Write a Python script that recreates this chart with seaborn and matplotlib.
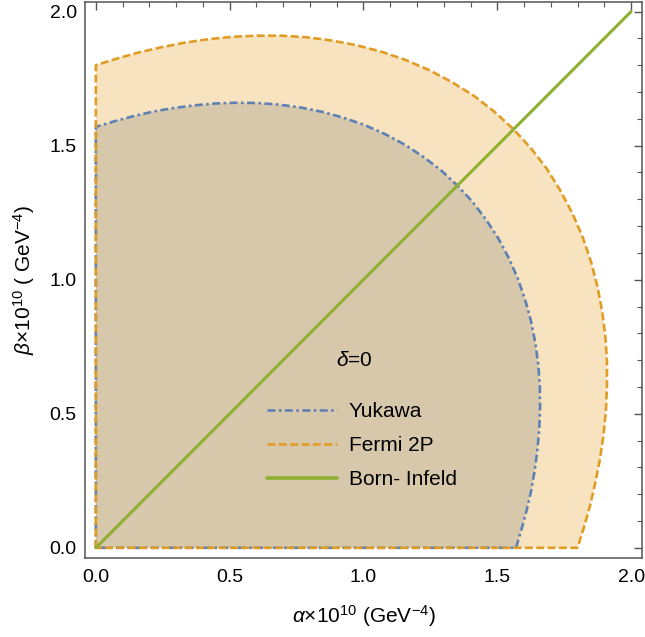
import matplotlib
matplotlib.use("Agg")
import matplotlib.pyplot as plt
import seaborn as sns
from matplotlib.ticker import MultipleLocator, FormatStrFormatter

# boundaries (closed outline: origin -> up the beta axis -> curve -> back along alpha axis)
yukawa_alpha = [0.000, 0.000, 0.070, 0.141, 0.214, 0.289, 0.366, 0.444, 0.523, 0.604, 0.685,
                0.766, 0.846, 0.926, 1.004, 1.081, 1.154, 1.224, 1.290, 1.351,
                1.408, 1.458, 1.504, 1.543, 1.577, 1.604, 1.626, 1.642, 1.653, 1.659,
                1.660, 1.657, 1.650, 1.640, 1.627, 1.610, 1.591, 1.570, 0.000]
yukawa_beta = [0.000, 1.570, 1.591, 1.610, 1.627, 1.640, 1.650, 1.657, 1.660, 1.659, 1.653,
               1.642, 1.626, 1.604, 1.577, 1.543, 1.504, 1.458, 1.408, 1.351,
               1.290, 1.224, 1.154, 1.081, 1.004, 0.926, 0.846, 0.766, 0.685, 0.604,
               0.523, 0.444, 0.366, 0.289, 0.214, 0.141, 0.070, 0.000, 0.000]

fermi_alpha = [0.000, 0.000, 0.080, 0.162, 0.246, 0.332, 0.421, 0.511, 0.602, 0.695, 0.789,
               0.882, 0.976, 1.068, 1.159, 1.247, 1.332, 1.414, 1.490, 1.561,
               1.626, 1.685, 1.736, 1.781, 1.819, 1.850, 1.874, 1.892, 1.904, 1.910,
               1.910, 1.906, 1.897, 1.884, 1.867, 1.848, 1.825, 1.800, 0.000]
fermi_beta = [0.000, 1.800, 1.825, 1.848, 1.867, 1.884, 1.897, 1.906, 1.910, 1.910, 1.904,
              1.892, 1.874, 1.850, 1.819, 1.781, 1.736, 1.685, 1.626, 1.561,
              1.490, 1.414, 1.332, 1.247, 1.159, 1.068, 0.976, 0.882, 0.789, 0.695,
              0.602, 0.511, 0.421, 0.332, 0.246, 0.162, 0.080, 0.000, 0.000]

born_alpha = [0.0, 2.0]
born_beta = [0.0, 2.0]

blue = "#5E81B5"
orange = "#E19C24"
green = "#8FB032"

sns.set_style("white")
plt.rcParams["font.family"] = ["Liberation Sans", "DejaVu Sans"]
plt.rcParams["mathtext.fontset"] = "custom"
plt.rcParams["mathtext.rm"] = "Liberation Sans"
plt.rcParams["mathtext.it"] = "Liberation Sans:italic"
plt.rcParams["text.color"] = "black"
plt.rcParams["axes.labelcolor"] = "black"

fig = plt.figure(figsize=(6.45, 6.37), dpi=100)
ax = fig.add_axes([0.132, 0.124, 0.863, 0.873])

ax.fill(fermi_alpha, fermi_beta, color="#F7E3C0", lw=0, zorder=1)
ax.fill(yukawa_alpha, yukawa_beta, color="#D7C7AB", lw=0, zorder=2)

sns.lineplot(x=yukawa_alpha, y=yukawa_beta, sort=False, estimator=None, ax=ax,
             color=blue, lw=1.9, label="Yukawa", zorder=3)
ax.lines[-1].set_dashes((3.0, 1.3, 1.0, 1.3))
sns.lineplot(x=fermi_alpha, y=fermi_beta, sort=False, estimator=None, ax=ax,
             color=orange, lw=1.9, label="Fermi 2P", zorder=4)
ax.lines[-1].set_dashes((3.0, 1.3))
sns.lineplot(x=born_alpha, y=born_beta, sort=False, estimator=None, ax=ax,
             color=green, lw=2.2, label="Born- Infeld", zorder=5)

ax.set_xlim(-0.04, 2.04)
ax.set_ylim(-0.038, 2.036)
ax.xaxis.set_major_locator(MultipleLocator(0.5))
ax.yaxis.set_major_locator(MultipleLocator(0.5))
ax.xaxis.set_minor_locator(MultipleLocator(0.1))
ax.yaxis.set_minor_locator(MultipleLocator(0.1))
ax.xaxis.set_major_formatter(FormatStrFormatter("%.1f"))
ax.yaxis.set_major_formatter(FormatStrFormatter("%.1f"))
ax.tick_params(which="both", direction="in", top=True, right=True,
               color="#555555", labelsize=14, labelcolor="black")
ax.tick_params(which="major", length=6, width=1)
ax.tick_params(which="minor", length=3.5, width=0.8)
ax.tick_params(axis="x", which="major", pad=8)
ax.tick_params(axis="y", which="major", pad=6)
for s in ax.spines.values():
    s.set_color("#555555")
    s.set_linewidth(1.1)

ax.set_xlabel(r"$\alpha$$\times$10$^{10}$ (GeV$^{-4}$)", fontsize=15, labelpad=12)
ax.set_ylabel(r"$\beta$$\times$10$^{10}$ ( GeV$^{-4}$)", fontsize=15, labelpad=9)

ax.text(0.483, 0.356, r"$\delta$=0", transform=ax.transAxes, fontsize=15,
        ha="center", va="center")
leg = ax.legend(loc="center left", bbox_to_anchor=(0.326, 0.2023), frameon=False,
                fontsize=15, borderpad=0, borderaxespad=0,
                handlelength=3.4, handletextpad=0.55, labelspacing=0.72)
leg.get_lines()[2].set_linewidth(2.6)

fig.savefig("out.png", dpi=100)
